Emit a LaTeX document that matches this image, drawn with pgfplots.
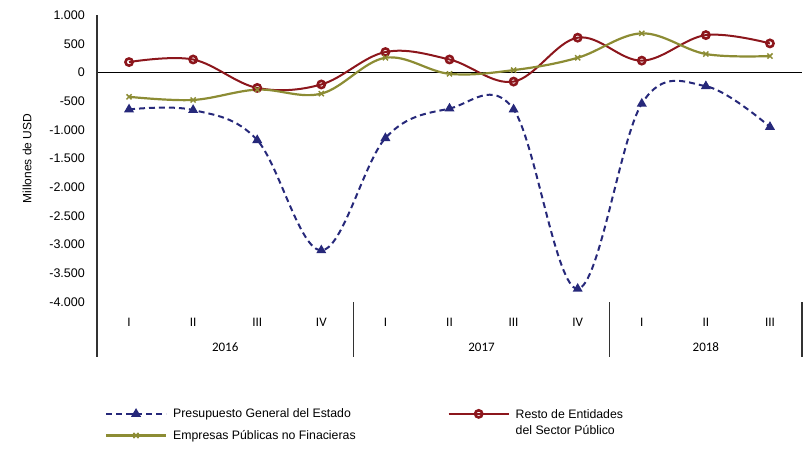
\documentclass[border=0pt]{standalone}
\usepackage{fontspec}
\setmainfont{Liberation Sans}
\newfontfamily\carlito{Carlito}
\usepackage{pgfplots}
\pgfplotsset{compat=1.18}

\definecolor{pgeblue}{RGB}{38,40,122}
\definecolor{restored}{RGB}{140,22,28}
\definecolor{empolive}{RGB}{140,140,52}
\definecolor{axgray}{RGB}{50,50,50}

\begin{document}
\begin{tikzpicture}
\path[use as bounding box] (0,0) rectangle (803pt,450pt);
\begin{axis}[
    at={(97pt,148pt)}, anchor=south west,
    scale only axis,
    width=705pt, height=287pt,
    xmin=0.5, xmax=11.5,
    ymin=-4000, ymax=1000,
    clip=false,
    axis lines*=left,
    axis line style={draw=none},
    major tick length=0pt,
    xtick={1,...,11},
    xticklabels={I,II,III,IV,I,II,III,IV,I,II,III},
    xticklabel style={font=\carlito\fontsize{13}{15}\selectfont, anchor=center, yshift=-20pt},
    ytick={-4000,-3500,...,1000},
    yticklabels={-4.000,-3.500,-3.000,-2.500,-2.000,-1.500,-1.000,-500,0,500,1.000},
    yticklabel style={font=\fontsize{12.5}{14}\selectfont, anchor=east, inner sep=0pt, xshift=-12pt},
    ylabel={Millones de USD},
    every axis y label/.style={at={(rel axis cs:0,0.5)}, xshift=-70pt, rotate=90, anchor=center,
        font=\fontsize{12}{14}\selectfont},
    legend columns=2,
    legend cell align=left,
    legend style={at={(rel axis cs:0.011,-0.36)}, anchor=north west, draw=none, fill=none,
        inner sep=0pt, font=\fontsize{12.3}{16}\selectfont,
        column sep=4pt,
        /tikz/every even column/.append style={column sep=90pt},
        row sep=6pt},
    legend image code/.code={\draw[mark repeat=2,mark phase=2,#1] plot coordinates {(0pt,0pt) (30pt,0pt) (60pt,0pt)};},
]

% horizontal line at zero
\draw[black, line width=1.6pt] (axis cs:0.5,0) -- (axis cs:11.5,0);
% y axis line, running down through the category area
\draw[axgray, line width=1.4pt] (rel axis cs:0,1) -- ([yshift=-55pt]rel axis cs:0,0);
% group separators
\draw[axgray, line width=1.4pt] (axis cs:4.5,-4000) -- ([yshift=-55pt]axis cs:4.5,-4000);
\draw[axgray, line width=1.4pt] (axis cs:8.5,-4000) -- ([yshift=-55pt]axis cs:8.5,-4000);
\draw[axgray, line width=1.4pt] (axis cs:11.5,-4000) -- ([yshift=-55pt]axis cs:11.5,-4000);
% years
\node[font=\carlito\fontsize{13}{15}\selectfont] at ([yshift=-45pt]axis cs:2.5,-4000) {2016};
\node[font=\carlito\fontsize{13}{15}\selectfont] at ([yshift=-45pt]axis cs:6.5,-4000) {2017};
\node[font=\carlito\fontsize{13}{15}\selectfont] at ([yshift=-45pt]axis cs:10,-4000) {2018};

\addplot[pgeblue, line width=2pt, dash pattern=on 6pt off 4pt, smooth, tension=0.6,
    mark=triangle*, mark size=3.8pt, mark options={solid, fill=pgeblue}] coordinates {
    (1,-645) (2,-655) (3,-1180) (4,-3100) (5,-1145) (6,-630)
    (7,-645) (8,-3770) (9,-545) (10,-240) (11,-950)
};
\addlegendentry{Presupuesto General del Estado}

\addplot[restored, line width=2pt, smooth, tension=0.6,
    mark=o, mark size=3.6pt, mark options={solid, fill=white, line width=2.6pt}] coordinates {
    (1,180) (2,225) (3,-270) (4,-210) (5,355) (6,225)
    (7,-160) (8,605) (9,205) (10,650) (11,505)
};
\addlegendentry{\begin{tabular}[t]{@{}l@{}}Resto de Entidades\\del Sector Público\end{tabular}}

\addplot[empolive, line width=2.2pt, smooth, tension=0.6,
    mark=x, mark size=3.6pt, mark options={solid, line width=1.5pt}] coordinates {
    (1,-425) (2,-480) (3,-300) (4,-370) (5,255) (6,-25)
    (7,40) (8,255) (9,680) (10,320) (11,285)
};
\addlegendentry{Empresas Públicas no Finacieras}

\end{axis}
\end{tikzpicture}
\end{document}
